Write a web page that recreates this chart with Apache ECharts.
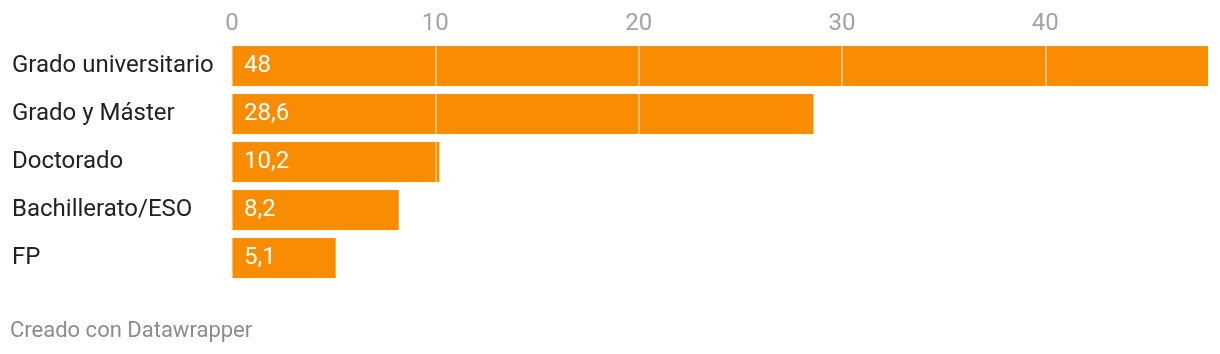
<!DOCTYPE html>
<html><head><meta charset="utf-8">
<script src="https://cdn.jsdelivr.net/npm/echarts@6/dist/echarts.min.js"></script>
<style>html,body{margin:0;padding:0;background:#fff}#c{width:1220px;height:354px}</style>
</head><body><div id="c"></div>
<script>
const categories = ["Grado universitario", "Grado y Máster", "Doctorado", "Bachillerato/ESO", "FP"];
const values = [48, 28.6, 10.2, 8.2, 5.1];
const ticks = [0, 10, 20, 30, 40];
const footer = "Creado con Datawrapper";

const chart = echarts.init(document.getElementById('c'), null, {renderer: 'canvas'});
chart.setOption({
  animation: false,
  textStyle: {fontFamily: 'Roboto'},
  grid: {left: 232, right: 12, top: 42, bottom: 72, containLabel: false},
  xAxis: {
    type: 'value', position: 'top', min: 0, max: 48, interval: 10,
    axisLine: {show: false}, axisTick: {show: false}, splitLine: {show: false},
    axisLabel: {
      color: '#a3a3a3', fontSize: 24, fontFamily: 'Roboto', margin: 6,
      formatter: v => ticks.includes(v) ? String(v) : ''
    }
  },
  yAxis: {
    type: 'category', data: categories, inverse: true,
    axisLine: {show: false}, axisTick: {show: false},
    axisLabel: {color: '#222', fontSize: 24, fontFamily: 'Roboto', align: 'left', margin: 220, padding: [9, 0, 0, 0]}
  },
  series: [{
    type: 'bar', data: values, barCategoryGap: '16.7%',
    itemStyle: {color: '#f98c00'},
    label: {
      show: true, position: 'insideLeft', distance: 12, color: '#fff', fontSize: 24, fontFamily: 'Roboto',
      padding: [9, 0, 0, 0],
      formatter: p => String(p.value).replace('.', ',')
    },
    markLine: {
      silent: true, symbol: 'none', label: {show: false},
      lineStyle: {color: 'rgba(255,255,255,0.45)', type: 'solid', width: 2},
      data: ticks.map(t => ({xAxis: t}))
    }
  }],
  graphic: [{
    type: 'text', left: 10, top: 320,
    style: {text: footer, fill: '#8c8c8c', fontSize: 22, fontFamily: 'Roboto'}
  }]
});
</script></body></html>
